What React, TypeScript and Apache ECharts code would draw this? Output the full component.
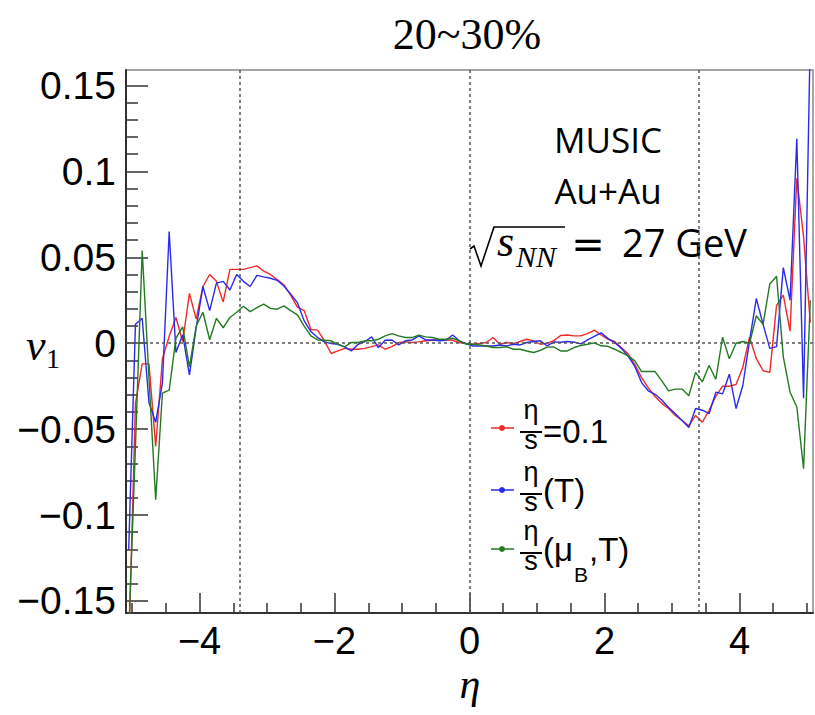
import React, { useEffect, useRef } from "react";
import * as echarts from "echarts";

// pseudorapidity bin centres
const eta = [
  -5.05, -4.95, -4.85, -4.75, -4.65, -4.55, -4.45, -4.35, -4.25, -4.15,
  -4.05, -3.95, -3.85, -3.75, -3.65, -3.55, -3.45, -3.35, -3.25, -3.15,
  -3.05, -2.95, -2.85, -2.75, -2.65, -2.55, -2.45, -2.35, -2.25, -2.15,
  -2.05, -1.95, -1.85, -1.75, -1.65, -1.55, -1.45, -1.35, -1.25, -1.15,
  -1.05, -0.95, -0.85, -0.75, -0.65, -0.55, -0.45, -0.35, -0.25, -0.15,
  -0.05, 0.05, 0.15, 0.25, 0.35, 0.45, 0.55, 0.65, 0.75, 0.85,
  0.95, 1.05, 1.15, 1.25, 1.35, 1.45, 1.55, 1.65, 1.75, 1.85,
  1.95, 2.05, 2.15, 2.25, 2.35, 2.45, 2.55, 2.65, 2.75, 2.85,
  2.95, 3.05, 3.15, 3.25, 3.35, 3.45, 3.55, 3.65, 3.75, 3.85,
  3.95, 4.05, 4.15, 4.25, 4.35, 4.45, 4.55, 4.65, 4.75, 4.85,
  4.95, 5.05,
];

// eta/s = 0.1
const v1Const = [
  -0.18, -0.035, -0.012, -0.012, -0.06, -0.009, 0.004, 0.015, 0.001, 0.029,
  0.014, 0.033, 0.04, 0.036, 0.024, 0.043, 0.043, 0.043, 0.044, 0.045,
  0.042, 0.04, 0.037, 0.034, 0.028, 0.021, 0.019, 0.008, 0.0076, 0.0014,
  -0.006, -0.0045, -0.003, -0.0035, -0.0035, -0.003, -0.002, -0.001, -0.0035, -0.002,
  0.0004, 0.0008, 0.0004, 0.0008, 0.0014, 0.0017, 0.002, 0.0019, 0.0017, 0.0004,
  -0.0002, -0.0006, -0.0002, 0.0004, 0.0033, -0.0006, 0.0004, -0.0002, 0.001, 0.0023,
  0.0014, -0.0006, 0.0, 0.0015, 0.0045, 0.0048, 0.0043, 0.0043, 0.0056, 0.0076,
  0.0048, 0.0023, 0.001, -0.0025, -0.0062, -0.0125, -0.02, -0.026, -0.031, -0.035,
  -0.038, -0.042, -0.045, -0.048, -0.042, -0.046, -0.039, -0.031, -0.025, -0.025,
  -0.024, -0.014, 0.0035, -0.009, -0.016, -0.017, 0.022, 0.028, 0.007, 0.096,
  0.062, 0.012,
];

// eta/s (T)
const v1T = [
  -0.12, 0.011, 0.0145, -0.0345, -0.046, -0.023, 0.065, -0.0054, 0.005, -0.0184,
  0.009, 0.033, 0.019, 0.035, 0.036, 0.031, 0.04, 0.036, 0.033, 0.0395,
  0.0386, 0.0378, 0.0366, 0.0333, 0.0285, 0.0236, 0.013, 0.0068, 0.0033, 0.0008,
  -0.0002, -0.0006, -0.0021, -0.0045, -0.0006, 0.001, 0.0037, -0.0025, 0.0017, 0.0019,
  -0.001, 0.0014, 0.0019, 0.0043, 0.0019, 0.0019, 0.0014, 0.0017, 0.0048, 0.0014,
  -0.0002, -0.0016, -0.0016, -0.0016, -0.0016, -0.001, -0.0016, -0.0006, -0.001, 0.0004,
  0.001, 0.0014, -0.0016, 0.0008, 0.0006, 0.001, 0.0006, -0.0004, 0.002, 0.004,
  0.006, 0.0028, 0.0004, -0.003, -0.0075, -0.0135, -0.0229, -0.0277, -0.0297, -0.033,
  -0.0374, -0.041, -0.045, -0.049, -0.038, -0.039, -0.041, -0.0285, -0.0295, -0.018,
  -0.038, -0.0246, 0.0015, 0.026, 0.011, -0.003, -0.002, 0.044, 0.025, 0.119,
  -0.032, 0.18,
];

// eta/s (muB, T)
const v1MuT = [
  -0.17, -0.06, 0.054, -0.02, -0.091, -0.029, -0.0273, 0.003, 0.0095, -0.0138,
  0.01, 0.018, 0.002, 0.0145, 0.009, 0.015, 0.018, 0.0215, 0.0184, 0.0207,
  0.0227, 0.0203, 0.0198, 0.0217, 0.019, 0.0165, 0.01, 0.0043, 0.0019, 0.0017,
  0.0014, -0.0006, -0.0021, 0.0004, 0.0004, 0.0014, 0.0014, 0.0023, 0.0043, 0.0056,
  0.0043, 0.0033, 0.0033, 0.0047, 0.0037, 0.0033, 0.0023, 0.0023, 0.0029, 0.0014,
  -0.0006, -0.0006, -0.001, -0.0016, -0.0025, -0.0025, -0.0021, -0.0035, -0.0035, -0.0045,
  -0.0054, -0.0042, -0.0023, -0.0022, -0.0045, -0.0045, -0.0025, -0.0013, -0.0006, 0.0002,
  -0.0015, -0.0018, -0.0035, -0.0054, -0.0074, -0.0103, -0.0165, -0.0165, -0.0165, -0.0219,
  -0.0277, -0.0267, -0.0267, -0.0306, -0.017, -0.0225, -0.013, -0.021, 0.0035, -0.009,
  0.0, 0.001, 0.0, 0.016, 0.011, 0.0345, 0.039, -0.008, -0.0285, -0.037,
  -0.073, 0.025,
];

const seriesNames = ["eta/s=0.1", "eta/s(T)", "eta/s(muB,T)"];
const seriesColors = ["#ee2a2a", "#2a2aee", "#237a23"];
const guideEta = [-3.4, 0, 3.4];
const xLabelTicks = [-4, -2, 0, 2, 4];
const xMinorTicks = [-5, -4.5, -3.5, -3, -2.5, -1.5, -1, -0.5, 0.5, 1, 1.5, 2.5, 3, 3.5, 4.5, 5];
const yLabelTicks = [-0.15, -0.1, -0.05, 0, 0.05, 0.1, 0.15];
const yMinorTicks = [
  -0.14, -0.13, -0.12, -0.11, -0.09, -0.08, -0.07, -0.06, -0.04, -0.03, -0.02, -0.01,
  0.01, 0.02, 0.03, 0.04, 0.06, 0.07, 0.08, 0.09, 0.11, 0.12, 0.13, 0.14,
];

const X_MIN = -5.09;
const X_MAX = 5.09;
const Y_MIN = -0.157;
const Y_MAX = 0.159;

const fmtNum = (v: number) => (v < 0 ? "\u2212" : "") + String(Math.abs(v));

const SANS = "'Liberation Sans', Arial, sans-serif";
const SERIF = "'Liberation Serif', 'Times New Roman', serif";
const CAL = "'Open Sans', sans-serif";

function legendEntry(barY: number, color: string, suffix: any[]) {
  return [
    { type: "line", shape: { x1: 491, y1: barY - 4, x2: 514, y2: barY - 4 }, style: { stroke: color, lineWidth: 1.5 } },
    { type: "circle", shape: { cx: 502, cy: barY - 4, r: 3 }, style: { fill: color } },
    { type: "text", x: 531, y: barY - 9, style: { text: "\u03b7", font: `27px ${SANS}`, fill: "#000", align: "center", verticalAlign: "bottom" } },
    { type: "line", shape: { x1: 520, y1: barY, x2: 542, y2: barY }, style: { stroke: "#000", lineWidth: 2 } },
    { type: "text", x: 531, y: barY - 6, style: { text: "s", font: `27px ${SANS}`, fill: "#000", align: "center", verticalAlign: "top" } },
    ...suffix,
  ];
}

export default function App() {
  const ref = useRef<HTMLDivElement>(null);
  useEffect(() => {
    if (!ref.current) return;
    const chart = echarts.init(ref.current, null, { renderer: "svg" });
    const datasets = [v1Const, v1T, v1MuT];
    const series: any[] = datasets.map((vals, k) => ({
      name: seriesNames[k],
      type: "line",
      xAxisIndex: 0,
      yAxisIndex: 0,
      data: eta.map((e, i) => [e, vals[i]]),
      showSymbol: false,
      symbol: "none",
      clip: true,
      lineStyle: { color: seriesColors[k], width: 1.4 },
      itemStyle: { color: seriesColors[k] },
      z: 3 + k,
    }));
    series.push({
      type: "line",
      data: [],
      xAxisIndex: 0,
      yAxisIndex: 0,
      silent: true,
      markLine: {
        silent: true,
        symbol: ["none", "none"],
        label: { show: false },
        lineStyle: { color: "#555", width: 1.5, type: [3, 3] },
        data: [...guideEta.map((g) => ({ xAxis: g })), { yAxis: 0 }],
      },
      z: 2,
    });

    const tickStyle = { color: "#333", width: 1.5 };
    const option: any = {
      animation: false,
      backgroundColor: "#fff",
      grid: {
        left: 126,
        right: 2,
        top: 70,
        bottom: 102,
        show: true,
        borderColor: "#888",
        borderWidth: 1.5,
        containLabel: false,
        outerBoundsMode: "none",
      },
      xAxis: [
        {
          type: "value",
          min: X_MIN,
          max: X_MAX,
          position: "bottom",
          axisLine: { show: true, onZero: false, lineStyle: { color: "#333", width: 2 } },
          axisTick: { show: true, inside: true, length: 20, customValues: xLabelTicks, lineStyle: tickStyle },
          axisLabel: {
            show: true,
            customValues: xLabelTicks,
            formatter: fmtNum,
            fontSize: 38,
            fontFamily: SANS,
            color: "#000",
            margin: 9,
          },
          splitLine: { show: false },
        },
        {
          type: "value",
          min: X_MIN,
          max: X_MAX,
          position: "bottom",
          axisLine: { show: false, onZero: false },
          axisTick: { show: true, inside: true, length: 10, customValues: xMinorTicks, lineStyle: tickStyle },
          axisLabel: { show: false },
          splitLine: { show: false },
        },
      ],
      yAxis: [
        {
          type: "value",
          min: Y_MIN,
          max: Y_MAX,
          position: "left",
          axisLine: { show: true, onZero: false, lineStyle: { color: "#333", width: 2 } },
          axisTick: { show: true, inside: true, length: 22, customValues: yLabelTicks, lineStyle: tickStyle },
          axisLabel: {
            show: true,
            customValues: yLabelTicks,
            formatter: fmtNum,
            fontSize: 39,
            fontFamily: SANS,
            color: "#000",
            margin: 10,
          },
          splitLine: { show: false },
        },
        {
          type: "value",
          min: Y_MIN,
          max: Y_MAX,
          position: "left",
          axisLine: { show: false, onZero: false },
          axisTick: { show: true, inside: true, length: 12, customValues: yMinorTicks, lineStyle: tickStyle },
          axisLabel: { show: false },
          splitLine: { show: false },
        },
      ],
      series,
      graphic: [
        { type: "text", x: 467, y: 34, style: { text: "20~30%", font: `44px ${SERIF}`, fill: "#000", align: "center", verticalAlign: "middle" } },
        { type: "text", x: 608, y: 139, style: { text: "MUSIC", font: `35px ${CAL}`, fill: "#000", align: "center", verticalAlign: "middle" } },
        { type: "text", x: 608, y: 190, style: { text: "Au+Au", font: `35px ${CAL}`, fill: "#000", align: "center", verticalAlign: "middle" } },
        { type: "polyline", shape: { points: [[470, 249], [474, 246], [481, 266], [494, 227], [565, 227]] }, style: { stroke: "#000", lineWidth: 1.6, fill: null } },
        { type: "text", x: 497, y: 241, style: { text: "s", font: `italic 44px ${SERIF}`, fill: "#000", align: "left", verticalAlign: "middle" } },
        { type: "text", x: 516, y: 256, style: { text: "NN", font: `italic 30px ${SERIF}`, fill: "#000", align: "left", verticalAlign: "middle" } },
        { type: "text", x: 588, y: 244, style: { text: "=", font: `40px 'DejaVu Sans', sans-serif`, fill: "#000", align: "center", verticalAlign: "middle" } },
        { type: "text", x: 622, y: 242, style: { text: "27 GeV", font: `38px ${CAL}`, fill: "#000", align: "left", verticalAlign: "middle" } },
        { type: "text", x: 26, y: 345, style: { text: "v", font: `italic 44px ${SERIF}`, fill: "#000", align: "left", verticalAlign: "middle" } },
        { type: "text", x: 46, y: 358, style: { text: "1", font: `28px ${SERIF}`, fill: "#000", align: "left", verticalAlign: "middle" } },
        { type: "text", x: 470, y: 684, style: { text: "\u03b7", font: `italic 42px ${SERIF}`, lineHeight: 30, fill: "#000", align: "center", verticalAlign: "middle" } },
        ...legendEntry(432, seriesColors[0], [
          { type: "text", x: 543, y: 431, style: { text: "=0.1", font: `33px ${SANS}`, fill: "#000", align: "left", verticalAlign: "middle" } },
        ]),
        ...legendEntry(494, seriesColors[1], [
          { type: "text", x: 543, y: 490, style: { text: "(T)", font: `33px ${SANS}`, fill: "#000", align: "left", verticalAlign: "middle" } },
        ]),
        ...legendEntry(553, seriesColors[2], [
          { type: "text", x: 543, y: 549, style: { text: "(\u03bc", font: `33px ${SANS}`, fill: "#000", align: "left", verticalAlign: "middle" } },
          { type: "text", x: 574, y: 574, style: { text: "B", font: `21px ${SANS}`, fill: "#000", align: "left", verticalAlign: "middle" } },
          { type: "text", x: 589, y: 549, style: { text: ",T)", font: `33px ${SANS}`, fill: "#000", align: "left", verticalAlign: "middle" } },
        ]),
      ],
    };
    chart.setOption(option);
    return () => chart.dispose();
  }, []);
  return (
    <div
      ref={ref}
      style={{ position: "fixed", left: 0, top: 0, width: 815, height: 715, background: "#fff" }}
    />
  );
}
